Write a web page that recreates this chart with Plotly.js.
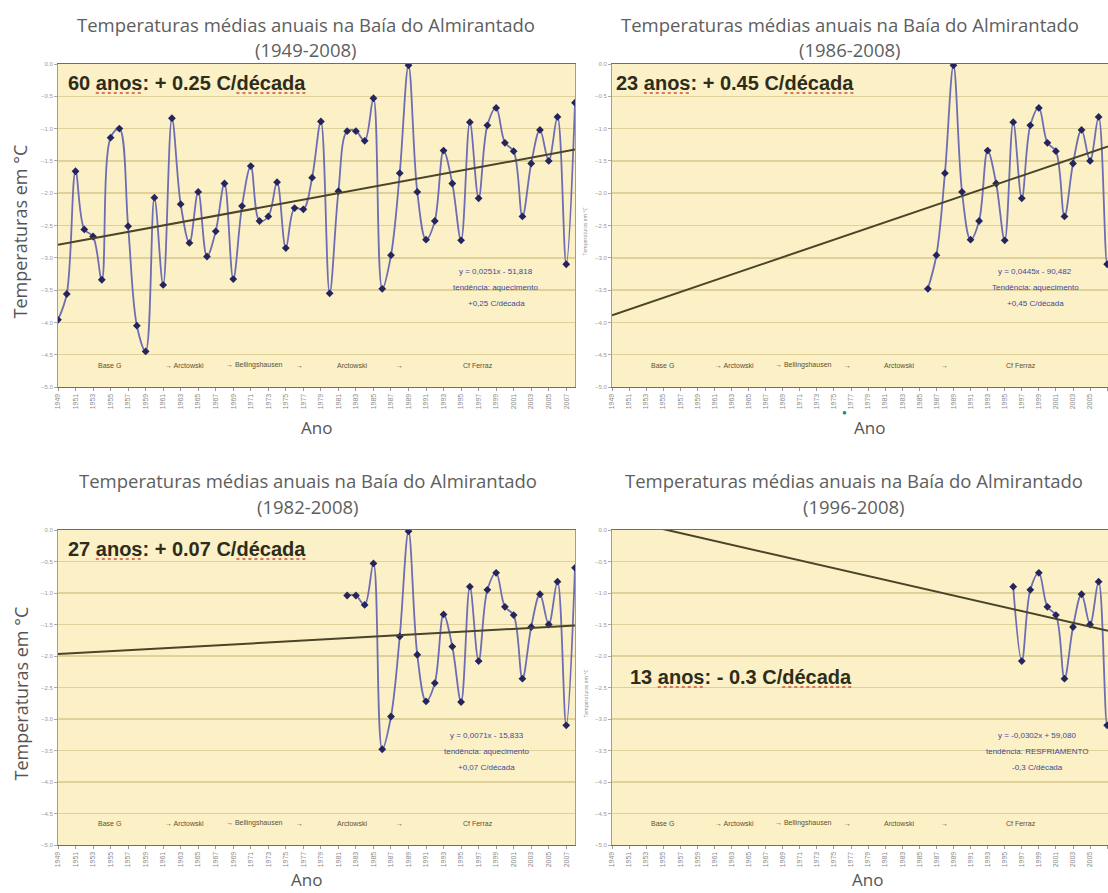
<!DOCTYPE html>
<html><head><meta charset="utf-8">
<script src="https://cdn.plot.ly/plotly-3.0.1.min.js"></script>
<style>html,body{margin:0;padding:0;background:#fff}#chart{width:1108px;height:893px}</style>
</head><body><div id="chart"></div>
<script>
// ---- data ----
const years = [1949,1950,1951,1952,1953,1954,1955,1956,1957,1958,1959,1960,1961,1962,1963,1964,1965,1966,1967,1968,
  1969,1970,1971,1972,1973,1974,1975,1976,1977,1978,1979,1980,1981,1982,1983,1984,1985,1986,1987,1988,
  1989,1990,1991,1992,1993,1994,1995,1996,1997,1998,1999,2000,2001,2002,2003,2004,2005,2006,2007,2008];
const temps = [-3.96,-3.56,-1.66,-2.56,-2.67,-3.34,-1.14,-1.00,-2.51,-4.05,-4.45,-2.07,-3.42,-0.84,-2.17,-2.77,-1.98,-2.98,-2.59,-1.85,
  -3.33,-2.20,-1.58,-2.43,-2.36,-1.83,-2.85,-2.23,-2.25,-1.76,-0.89,-3.55,-1.97,-1.04,-1.04,-1.19,-0.53,-3.48,-2.96,-1.69,
  -0.02,-1.98,-2.72,-2.43,-1.34,-1.85,-2.73,-0.90,-2.08,-0.95,-0.68,-1.22,-1.35,-2.36,-1.54,-1.02,-1.50,-0.82,-3.10,-0.60];
const periods = ['(1949-2008)','(1986-2008)','(1982-2008)','(1996-2008)'];
const startYears = [1949,1986,1982,1996];
const headlineCount = ['60','23','27','13'];
const headlineRate = ['+ 0.25','+ 0.45','+ 0.07','- 0.3'];
const trendSlope = [0.025, 0.045, 0.0077, -0.031];      // °C per year
const trendAt1949 = [-2.80, -3.89, -1.97, 0.20];        // trend value in 1949
const equations = ['y = 0,0251x - 51,818','y = 0,0445x - 90,482','y = 0,0071x - 15,833','y = -0,0302x + 59,080'];
const trendWords = ['tendência: aquecimento','Tendência: aquecimento','tendência: aquecimento','tendência: RESFRIAMENTO'];
const decadeRates = ['+0,25 C/década','+0,45 C/década','+0,07 C/década','-0,3 C/década'];
const stations = ['Base G','→ Arctowski','→ Bellingshausen','→','Arctowski','→','Cf Ferraz'];
const yTicks = [0,-0.5,-1,-1.5,-2,-2.5,-3,-3.5,-4,-4.5,-5];
const xTickYears = [1949,1951,1953,1955,1957,1959,1961,1963,1965,1967,1969,1971,1973,1975,1977,1979,1981,1983,1985,1987,1989,1991,1993,1995,1997,1999,2001,2003,2005,2007];
const mainTitle = 'Temperaturas médias anuais na Baía do Almirantado';
const yTitle = 'Temperaturas em °C';
const xTitle = 'Ano';

// ---- layout geometry (pixels) ----
const W = 1108, H = 893;
const panels = [
  {l:58,  r:575,  t:64,  b:387, xEnd:2008.0, tx:306, titleY:25,  subY:50,  anoX:316, anoY:427, yTitleX:20,  big:true,  hx:66,  hy:83},
  {l:612, r:1108, t:64,  b:387, xEnd:2007.1, tx:850, titleY:25,  subY:50,  anoX:870, anoY:427, yTitleX:585, big:false, hx:614, hy:83},
  {l:58,  r:575,  t:530, b:845, xEnd:2008.0, tx:308, titleY:481, subY:506, anoX:306, anoY:879, yTitleX:20,  big:true,  hx:66,  hy:549},
  {l:612, r:1108, t:530, b:845, xEnd:2007.1, tx:854, titleY:481, subY:506, anoX:867, anoY:879, yTitleX:585, big:false, hx:628, hy:677}
];
const stationPos = [1954.9, 1963.4, 1971.4, 1976.6, 1982.6, 1988.0, 1996.9];
const eqPos = [1999.0, 1998.6, 1997.9, 1998.8];
const px = v => v / W;
const py = v => 1 - v / H;

const titleFont = {family:'Open Sans, Noto Sans, sans-serif', size:18.5, color:'#5e5e5e'};
const headFont = {family:'Liberation Sans, Arial, sans-serif', size:20, color:'#2e2c1a'};
const traces = [];
const layout = {
  width: W, height: H,
  margin: {l:0, r:0, t:0, b:0},
  paper_bgcolor: '#ffffff',
  plot_bgcolor: '#fcf0c6',
  showlegend: false,
  annotations: [],
  shapes: []
};

// approximate Liberation Sans Bold advance widths (em) for underline placement
const adv = {'0':.556,'1':.556,'2':.556,'3':.556,'4':.556,'5':.556,'6':.556,'7':.556,'8':.556,'9':.556,
  ' ':.278,'a':.556,'n':.611,'o':.611,'s':.556,':':.333,'+':.584,'-':.333,'.':.278,'C':.722,'/':.278,'d':.611,'é':.556,'c':.556};
const textW = s => [...s].reduce((w, ch) => w + (adv[ch] || .556), 0) * headFont.size;

panels.forEach((p, i) => {
  const n = i + 1;
  const xa = 'x' + (n === 1 ? '' : n), ya = 'y' + (n === 1 ? '' : n);
  const sel = years.map((yr, k) => k).filter(k => years[k] >= startYears[i]);
  traces.push({
    type: 'scatter', mode: 'lines+markers', xaxis: xa, yaxis: ya,
    x: sel.map(k => years[k]), y: sel.map(k => temps[k]),
    line: {shape: 'spline', smoothing: 1, color: '#6d6db4', width: 1.8},
    marker: {symbol: 'diamond', size: 6, color: '#25255e'},
    hoverinfo: 'skip'
  });
  const tx = [1949, p.xEnd];
  traces.push({
    type: 'scatter', mode: 'lines', xaxis: xa, yaxis: ya,
    x: tx, y: tx.map(t => trendAt1949[i] + trendSlope[i] * (t - 1949)),
    line: {color: '#4a4529', width: 2}, hoverinfo: 'skip'
  });
  layout['xaxis' + (n === 1 ? '' : n)] = {
    domain: [px(p.l), px(p.r)], range: [1949, p.xEnd], anchor: ya,
    tickvals: xTickYears, ticktext: xTickYears.map(String), tickangle: -90,
    tickfont: {family: 'Liberation Sans, Arial, sans-serif', size: 7, color: '#8a8a8a'},
    ticks: 'outside', ticklen: 3, tickcolor: '#999',
    showline: true, linecolor: '#6e6e6e', linewidth: 1, mirror: true,
    showgrid: false, zeroline: false, fixedrange: true
  };
  layout['yaxis' + (n === 1 ? '' : n)] = {
    domain: [py(p.b), py(p.t)], range: [-5, 0], anchor: xa,
    tickvals: yTicks, tickformat: '.1f',
    tickfont: {family: 'Liberation Sans, Arial, sans-serif', size: 6, color: '#9a9a9a'},
    ticks: 'outside', ticklen: 3, tickcolor: '#aaa',
    showgrid: true, gridcolor: '#e0d099', gridwidth: 1.5,
    showline: true, linecolor: '#98a48c', linewidth: 1, mirror: true,
    zeroline: false, fixedrange: true
  };
  // titles
  layout.annotations.push({xref:'paper', yref:'paper', x:px(p.tx), y:py(p.titleY), text:mainTitle,
    showarrow:false, xanchor:'center', yanchor:'middle', font:titleFont});
  layout.annotations.push({xref:'paper', yref:'paper', x:px(p.tx), y:py(p.subY), text:periods[i],
    showarrow:false, xanchor:'center', yanchor:'middle', font:titleFont});
  // headline
  const head = headlineCount[i] + ' anos: ' + headlineRate[i] + ' C/década';
  layout.annotations.push({xref:'paper', yref:'paper', x:px(p.hx), y:py(p.hy), text:'<b>' + head + '</b>',
    showarrow:false, xanchor:'left', yanchor:'middle', font:headFont});
  // red spell-check underlines under "anos" and "década"
  const x0 = p.hx + 2;
  const aStart = x0 + textW(headlineCount[i] + ' ');
  const dStart = x0 + textW(headlineCount[i] + ' anos: ' + headlineRate[i] + ' C/');
  [[aStart, aStart + textW('anos')], [dStart, dStart + textW('década')]].forEach(([a, b]) => {
    layout.shapes.push({type:'line', xref:'paper', yref:'paper', x0:px(a), x1:px(b), y0:py(p.hy + 10), y1:py(p.hy + 10),
      line:{color:'#c8503c', width:1.5, dash:'dot'}});
  });
  // axis titles
  layout.annotations.push({xref:'paper', yref:'paper', x:px(p.anoX), y:py(p.anoY), text:xTitle,
    showarrow:false, xanchor:'center', yanchor:'middle',
    font:{family:'Open Sans, sans-serif', size:17, color:'#555'}});
  layout.annotations.push({xref:'paper', yref:'paper', x:px(p.yTitleX), y:py((p.t + p.b) / 2 + 6), text:yTitle,
    showarrow:false, textangle:-90, xanchor:'center', yanchor:'middle',
    font:{family:'Open Sans, sans-serif', size: p.big ? 18 : 5, color: p.big ? '#555' : '#888'}});
  // regression text box
  const eqLines = [equations[i], trendWords[i], decadeRates[i]];
  eqLines.forEach((t, j) => {
    layout.annotations.push({xref:xa, yref:'paper', x:eqPos[i], y:py(p.t + 207 + j * 16 - (i >= 2 ? 2 : 0)), text:t,
      showarrow:false, xanchor:'center', yanchor:'middle',
      font:{family:'Liberation Sans, Arial, sans-serif', size:8, color:'#3b4a9e'}});
  });
  // station timeline
  stations.forEach((s, j) => {
    layout.annotations.push({xref:xa, yref:'paper', x:stationPos[j], y:py(p.b - 22), text:s,
      showarrow:false, xanchor:'center', yanchor:'middle',
      font:{family:'Liberation Sans, Arial, sans-serif', size:7, color:'#5b5232'}});
  });
});
// small teal mark near the second "Ano"
layout.annotations.push({xref:'paper', yref:'paper', x:px(849), y:py(412), text:'●', showarrow:false,
  font:{size:8, color:'#1f8a6c'}});

Plotly.newPlot('chart', traces, layout, {staticPlot:true, displayModeBar:false});
</script></body></html>
